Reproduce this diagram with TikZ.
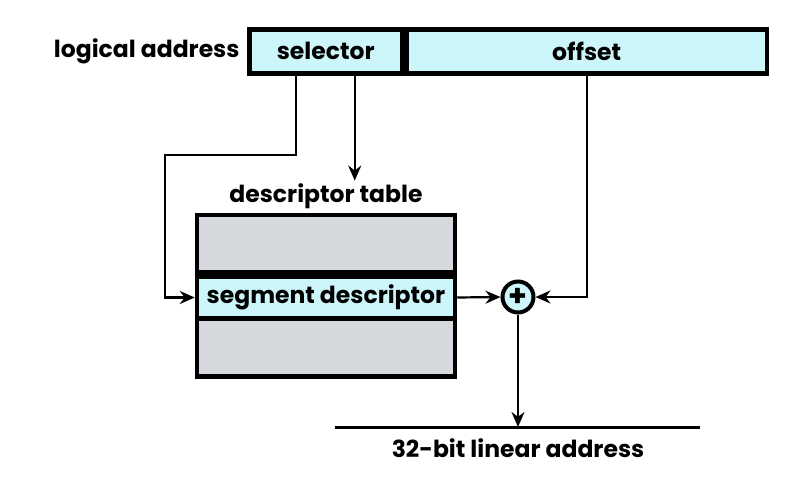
\documentclass[tikz,border=0pt]{standalone}
\usepackage{fontspec}
\setmainfont{Poppins}
\usetikzlibrary{positioning,arrows.meta}
\definecolor{fieldcyan}{RGB}{204,246,250}
\definecolor{rowgray}{RGB}{213,216,220}
\begin{document}
\begin{tikzpicture}[x=1pt,y=-1pt,font=\bfseries\fontsize{23.5}{26}\selectfont,
    field/.style={draw,line width=4.5pt,fill=fieldcyan,minimum height=44pt,inner sep=0pt},
    row/.style={draw,line width=4.5pt,fill=rowgray,minimum width=258pt,inner sep=0pt},
    link/.style={line width=2.2pt,-{Stealth[length=15pt,width=13pt]}}]
  \useasboundingbox (0,0) rectangle (804,496);
  \node[field,minimum width=153pt,anchor=north west] (sel) at (247,27) {selector};
  \node[field,minimum width=360pt,right=0pt of sel] (off) {offset};
  \node[left=4pt of sel] (logaddr) {logical address};
  \node[row,minimum height=57pt] (top) at (326,243.5) {};
  \node[row,minimum height=58pt,below=42pt of top] (bot) {};
  \node[row,fill=fieldcyan,minimum height=42pt,below=0pt of top] (mid) {segment descriptor};
  \node[above=0pt of top] (tbl) {descriptor table};
  \node[draw,circle,line width=4pt,fill=fieldcyan,minimum size=31pt,inner sep=0pt] (sum) at (518,297) {\fontsize{30}{30}\selectfont +};
  \coordinate (bend) at (165,155);
  \coordinate (base) at (518,427);
  \coordinate (lineL) at (335,427);
  \coordinate (lineR) at (700,427);
  \draw[link] ([xshift=-30pt]sel.south) |- (bend) |- (mid.west);
  \draw[link] ([xshift=29pt]sel.south) -- ([xshift=29pt]sel.south |- tbl.north);
  \draw[link] (off.south) |- (sum.east);
  \draw[link] (mid.east) -- (sum.west);
  \draw[link] (sum.south) -- (base);
  \draw[line width=3pt] (lineL) -- (lineR);
  \node[below=8pt of base] (linaddr) {32-bit linear address};
\end{tikzpicture}
\end{document}
